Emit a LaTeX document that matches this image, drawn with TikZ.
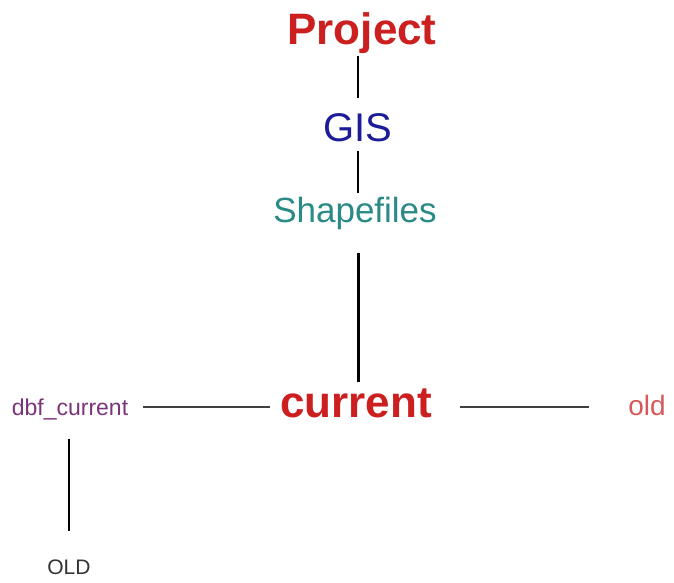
\documentclass[tikz,border=0pt]{standalone}
\usepackage{fontspec}
\setmainfont{Liberation Sans}
\definecolor{projred}{HTML}{CC1F1F}
\definecolor{gisblue}{HTML}{1C1C99}
\definecolor{shapeteal}{HTML}{2A8A85}
\definecolor{oldred}{HTML}{D65A5A}
\definecolor{dbfpurple}{HTML}{7A357A}
\definecolor{olddark}{HTML}{333333}
\newcommand{\fs}[1]{\fontsize{#1}{#1}\selectfont}
\tikzset{
  lbl/.style={inner sep=0pt, anchor=base},
  link/.style={draw=black, line width=2.5pt},
  hlink/.style={draw=black!75, line width=2pt},
}
\begin{document}
\begin{tikzpicture}[x=1pt,y=-1pt]
\useasboundingbox[fill=white] (0,0) rectangle (674,583);
\node[lbl, text=projred, font=\fs{44}\bfseries] (project) at (362,45) {Project};
\node[lbl, text=gisblue, font=\fs{40}] (gis) at (358,142) {GIS};
\node[lbl, text=shapeteal, font=\fs{35}] (shape) at (355,222) {Shapefiles};
\node[lbl, text=projred, font=\fs{44}\bfseries] (current) at (356,417) {current};
\node[lbl, text=oldred, font=\fs{28}] (old) at (647,415) {old};
\node[lbl, text=dbfpurple, font=\fs{23}] (dbf) at (70,415) {dbf\_current};
\node[lbl, text=olddark, font=\fs{21}] (OLD) at (69,574) {OLD};

\draw[link, shorten <=2pt, shorten >=16pt] (project.south -| gis) -- (gis.north);
\draw[link, shorten <=8pt, shorten >=3pt] (gis.south) -- (gis.south |- shape.north);
\draw[link, line width=3pt, shorten <=24pt, shorten >=6pt] (shape.south -| gis) -- (gis |- current.north);
\draw[hlink, shorten <=15pt, shorten >=10pt] ([yshift=8pt]dbf.base east) -- ([yshift=10pt]current.base west);
\draw[hlink, shorten <=28pt, shorten >=39pt] ([yshift=10pt]current.base east) -- ([yshift=8pt]old.base west);
\draw[link, shorten <=19pt, shorten >=28pt] (OLD.north |- dbf.south) -- (OLD.north);
\end{tikzpicture}
\end{document}
